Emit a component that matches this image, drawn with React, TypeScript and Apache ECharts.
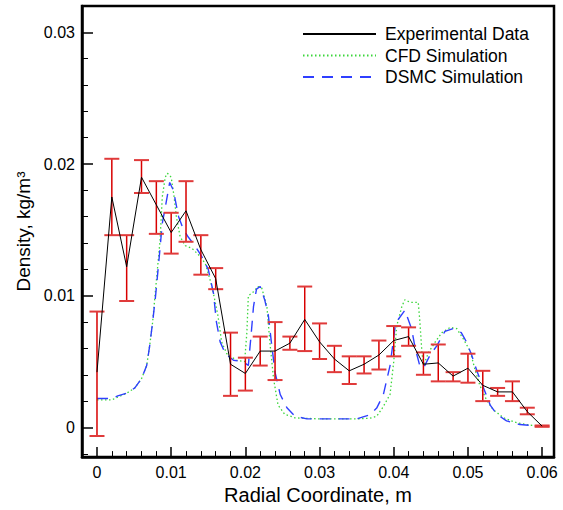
import React, { useEffect, useRef } from 'react';
import * as echarts from 'echarts';

// Experimental data (radial coordinate, density, error bar bounds)
const expX = [0, 0.002, 0.004, 0.006, 0.008, 0.010, 0.012, 0.014, 0.016, 0.018, 0.020, 0.022, 0.024, 0.026, 0.028, 0.030, 0.032, 0.034, 0.036, 0.038, 0.040, 0.042, 0.044, 0.046, 0.048, 0.050, 0.052, 0.054, 0.056, 0.058, 0.060];
const expY = [0.0042, 0.0175, 0.0122, 0.0190, 0.0169, 0.0148, 0.01645, 0.0135, 0.0113, 0.0048, 0.0041, 0.0058, 0.0058, 0.0064, 0.0082, 0.0065, 0.0052, 0.0043, 0.0048, 0.0055, 0.0066, 0.0069, 0.0048, 0.0049, 0.0039, 0.0045, 0.0032, 0.0027, 0.0027, 0.0012, 0.0001];
const errLow = [-0.00065, 0.0146, 0.0096, 0.0178, 0.0147, 0.0132, 0.0141, 0.0116, 0.0105, 0.0024, 0.0028, 0.0047, 0.0036, 0.0059, 0.0058, 0.0052, 0.0042, 0.0033, 0.0041, 0.0044, 0.0054, 0.0062, 0.0040, 0.0035, 0.0035, 0.0034, 0.0020, 0.0024, 0.0020, 0.0010, 0.00005];
const errHigh = [0.0088, 0.0204, 0.0146, 0.0203, 0.0187, 0.0163, 0.0187, 0.0146, 0.0121, 0.0072, 0.0053, 0.0069, 0.0080, 0.0069, 0.0107, 0.0079, 0.0062, 0.0054, 0.0054, 0.0066, 0.0077, 0.0076, 0.0057, 0.0063, 0.0042, 0.0056, 0.0043, 0.0030, 0.0035, 0.0015, 0.00015];

// CFD simulation
const cfdX = [0, 0.002, 0.0028, 0.004, 0.0051, 0.006, 0.0067, 0.0071, 0.0075, 0.0079, 0.0085, 0.0088, 0.0092, 0.0095, 0.0100, 0.0104, 0.0107, 0.0112, 0.0119, 0.0128, 0.0137, 0.0146, 0.0155, 0.0163, 0.0168, 0.0175, 0.0188, 0.0199, 0.0202, 0.0204, 0.0211, 0.0217, 0.0222, 0.0229, 0.0233, 0.0238, 0.0244, 0.0253, 0.0267, 0.030, 0.035, 0.0368, 0.0377, 0.0385, 0.0395, 0.0400, 0.0404, 0.0411, 0.0415, 0.0422, 0.0433, 0.0435, 0.0438, 0.0440, 0.0447, 0.0456, 0.0465, 0.0476, 0.0485, 0.0494, 0.0503, 0.0509, 0.0516, 0.0525, 0.0534, 0.0548, 0.0566, 0.0584, 0.0600];
const cfdY = [0.0021, 0.0021, 0.0023, 0.0026, 0.0030, 0.0037, 0.0047, 0.0062, 0.0080, 0.0105, 0.0142, 0.0175, 0.0190, 0.0193, 0.0190, 0.0175, 0.0160, 0.0145, 0.0138, 0.0136, 0.0131, 0.01246, 0.0107, 0.0085, 0.0065, 0.0056, 0.0051, 0.0050, 0.0072, 0.0100, 0.0103, 0.0107, 0.0106, 0.0092, 0.0065, 0.0037, 0.0017, 0.0010, 0.00073, 0.00065, 0.00065, 0.0007, 0.00085, 0.0015, 0.0025, 0.0050, 0.0077, 0.0092, 0.0097, 0.0095, 0.0095, 0.0082, 0.0057, 0.0047, 0.0057, 0.0065, 0.0072, 0.0076, 0.0075, 0.0067, 0.0058, 0.0045, 0.0032, 0.0021, 0.00135, 0.00073, 0.00035, 0.00017, 0.0001];

// DSMC simulation
const dsmcX = [0, 0.002, 0.0028, 0.004, 0.0051, 0.006, 0.0067, 0.0071, 0.0075, 0.0079, 0.0084, 0.0088, 0.0092, 0.0098, 0.0103, 0.0110, 0.0116, 0.0123, 0.0132, 0.0141, 0.0150, 0.0157, 0.0161, 0.0166, 0.0173, 0.0184, 0.0197, 0.0204, 0.0208, 0.0211, 0.0215, 0.0220, 0.0226, 0.0231, 0.0235, 0.0240, 0.0247, 0.0256, 0.0267, 0.0283, 0.035, 0.0368, 0.0377, 0.0386, 0.0395, 0.0402, 0.0406, 0.0415, 0.0424, 0.0429, 0.0435, 0.0440, 0.0449, 0.0458, 0.0469, 0.0480, 0.0491, 0.0498, 0.0505, 0.0512, 0.0521, 0.0530, 0.0539, 0.0552, 0.0570, 0.0600];
const dsmcY = [0.0022, 0.0022, 0.0024, 0.0026, 0.0030, 0.0037, 0.0047, 0.0062, 0.0080, 0.0100, 0.0130, 0.0155, 0.0167, 0.0186, 0.0180, 0.0160, 0.0151, 0.01446, 0.0138, 0.0130, 0.0120, 0.0102, 0.0080, 0.0065, 0.0056, 0.0051, 0.0050, 0.0047, 0.0072, 0.0092, 0.0105, 0.0107, 0.0097, 0.0085, 0.0065, 0.0042, 0.0025, 0.0015, 0.00085, 0.00065, 0.00065, 0.00097, 0.00147, 0.0025, 0.0047, 0.0077, 0.0082, 0.0089, 0.0075, 0.0060, 0.0047, 0.0045, 0.0055, 0.0062, 0.0073, 0.0075, 0.0072, 0.0065, 0.0055, 0.0043, 0.0030, 0.0017, 0.0010, 0.0005, 0.00022, 0.0001];

const seriesNames = ['Experimental Data', 'CFD Simulation', 'DSMC Simulation'];
const xAxisTitle = 'Radial Coordinate, m';
const yAxisTitle = 'Density, kg/m\u00B3';

const FONT = "'Liberation Sans', Arial, sans-serif";

export default function App() {
  const ref = useRef<HTMLDivElement>(null);

  useEffect(() => {
    if (!ref.current) return;
    const chart = echarts.init(ref.current, undefined, { renderer: 'svg' });

    const zip = (xs: number[], ys: number[]) => xs.map((x, i) => [x, ys[i]]);

    chart.setOption({
      animation: false,
      backgroundColor: '#ffffff',
      textStyle: { fontFamily: FONT, color: '#000' },
      grid: {
        left: 82, right: 9, top: 6, bottom: 47,
        show: true, borderColor: '#000', borderWidth: 2.5, backgroundColor: 'transparent',
      },
      legend: {
        data: seriesNames,
        orient: 'vertical',
        left: 302,
        top: 25,
        padding: 0,
        itemWidth: 73,
        itemHeight: 17,
        itemGap: 3.5,
        itemStyle: { opacity: 0 },
        textStyle: { fontFamily: FONT, fontSize: 17.5, color: '#000', padding: [0, 0, 0, 4] },
      },
      xAxis: {
        type: 'value',
        min: -0.00202,
        max: 0.0616,
        splitNumber: 6,
        name: xAxisTitle,
        nameLocation: 'middle',
        nameGap: 22,
        nameTextStyle: { fontFamily: FONT, fontSize: 20, color: '#000' },
        axisLine: { show: true, onZero: false, lineStyle: { color: '#000', width: 2.5 } },
        axisTick: { show: true, inside: true, length: 10, lineStyle: { color: '#000', width: 1.5 } },
        minorTick: { show: true, splitNumber: 5, length: 6, lineStyle: { color: '#000', width: 1 } },
        axisLabel: { fontFamily: FONT, fontSize: 16, color: '#000', margin: 7, showMinLabel: false, showMaxLabel: false },
        splitLine: { show: false },
      },
      yAxis: {
        type: 'value',
        min: -0.00225,
        max: 0.032,
        splitNumber: 3,
        name: yAxisTitle,
        nameLocation: 'middle',
        nameRotate: 90,
        nameGap: 47,
        nameTextStyle: { fontFamily: FONT, fontSize: 19, color: '#000' },
        axisLine: { show: true, onZero: false, lineStyle: { color: '#000', width: 2.5 } },
        axisTick: { show: true, inside: true, length: 11, lineStyle: { color: '#000', width: 1.5 } },
        minorTick: { show: true, splitNumber: 5, length: 6, lineStyle: { color: '#000', width: 1 } },
        axisLabel: { fontFamily: FONT, fontSize: 16, color: '#000', margin: 7, showMinLabel: false, showMaxLabel: false },
        splitLine: { show: false },
      },
      series: [
        {
          name: seriesNames[1],
          type: 'line',
          data: zip(cfdX, cfdY),
          symbol: 'none',
          smooth: false,
          lineStyle: { color: '#3cd63c', width: 1.3, type: [1.5, 2.5] },
          itemStyle: { color: '#3cd63c' },
          z: 2,
        },
        {
          name: seriesNames[2],
          type: 'line',
          data: zip(dsmcX, dsmcY),
          symbol: 'none',
          lineStyle: { color: '#2f3fff', width: 1.4, type: [11, 8] },
          itemStyle: { color: '#2f3fff' },
          z: 3,
        },
        {
          type: 'custom',
          name: 'errors',
          data: expX.map((x, i) => [x, errLow[i], errHigh[i]]),
          encode: { x: 0, y: [1, 2] },
          renderItem: (params: any, api: any) => {
            const x = api.value(0);
            const lo = api.coord([x, api.value(1)]);
            const hi = api.coord([x, api.value(2)]);
            const w = 7.5;
            const vStyle = { stroke: '#d80000', lineWidth: 1.5 };
            const cStyle = { stroke: '#e03a3a', lineWidth: 2 };
            return {
              type: 'group',
              children: [
                { type: 'line', shape: { x1: lo[0], y1: lo[1], x2: hi[0], y2: hi[1] }, style: vStyle },
                { type: 'line', shape: { x1: hi[0] - w, y1: hi[1], x2: hi[0] + w, y2: hi[1] }, style: cStyle },
                { type: 'line', shape: { x1: lo[0] - w, y1: lo[1], x2: lo[0] + w, y2: lo[1] }, style: cStyle },
              ],
            };
          },
          z: 4,
        },
        {
          name: seriesNames[0],
          type: 'line',
          data: zip(expX, expY),
          symbol: 'none',
          lineStyle: { color: '#000', width: 1 },
          itemStyle: { color: '#000' },
          z: 5,
        },
      ],
    });

    return () => chart.dispose();
  }, []);

  return (
    <div
      ref={ref}
      style={{ position: 'fixed', left: 0, top: 0, width: 563, height: 510, background: '#fff' }}
    />
  );
}
